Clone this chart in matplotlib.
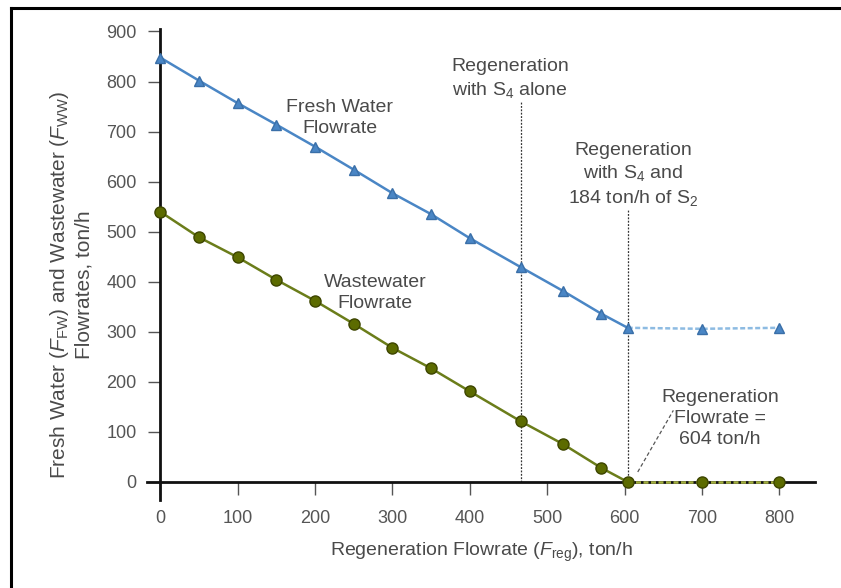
import numpy as np
import matplotlib.pyplot as plt
from matplotlib.lines import Line2D

plt.rcParams['font.family'] = ['Liberation Sans', 'DejaVu Sans']
plt.rcParams['mathtext.fontset'] = 'custom'
plt.rcParams['mathtext.rm'] = 'Liberation Sans'
plt.rcParams['mathtext.it'] = 'Liberation Sans:italic'

# Data
reg_flow = [0, 50, 100, 150, 200, 250, 300, 350, 400, 466, 520, 570, 604, 700, 800]
fresh_water = [848, 802, 757, 714, 670, 624, 577, 535, 487, 429, 382, 336, 308, 306, 308]
waste_water = [540, 489, 449, 404, 362, 316, 268, 227, 181, 121, 76, 28, 0, 0, 0]
break_idx = 12          # regeneration flowrate = 604 ton/h
s4_alone = 466          # regeneration with S4 alone
s4_s2 = 604             # regeneration with S4 and 184 ton/h of S2

x_ticks = [0, 100, 200, 300, 400, 500, 600, 700, 800]
y_ticks = [0, 100, 200, 300, 400, 500, 600, 700, 800, 900]

txt_col = '#4a4a4a'
blue = '#4a86c5'
blue_light = '#8dbbe2'
olive = '#6b7d1a'
olive_face = '#5c6b00'
olive_light = '#a4b040'

fig = plt.figure(figsize=(8.41, 5.88), dpi=100)
ax = fig.add_axes([0.1748, 0.1497, 0.7943, 0.801])

# vertical reference lines
ax.plot([s4_alone, s4_alone], [0, 759], color='#333333', lw=0.9, ls=(0, (1.5, 1.2)))
ax.plot([s4_s2, s4_s2], [0, 545], color='#333333', lw=0.9, ls=(0, (1.5, 1.2)))

x = np.array(reg_flow)
fw = np.array(fresh_water)
ww = np.array(waste_water)

# fresh water
ax.plot(x[:break_idx + 1], fw[:break_idx + 1], color=blue, lw=1.8, zorder=3)
ax.plot(x[break_idx:], fw[break_idx:], color=blue_light, lw=1.8, ls=(0, (2, 1)), zorder=3)
ax.plot(x, fw, ls='none', marker='^', ms=6.5, color=blue, mec='#3a6fa8', zorder=4)

# wastewater
ax.plot(x[:break_idx + 1], ww[:break_idx + 1], color=olive, lw=1.8, zorder=3)
ax.plot(x[break_idx:], ww[break_idx:], color=olive_light, lw=1.8, ls=(0, (2, 1)), zorder=3)
ax.plot(x, ww, ls='none', marker='o', ms=8, color=olive_face, mec='#3d4500', zorder=4)

ax.set_xlim(-17, 846)
ax.set_ylim(-36, 905)
ax.spines['left'].set_position(('data', 0))
ax.spines['bottom'].set_position(('data', 0))
ax.spines['left'].set_bounds(-36, 905)
ax.spines['right'].set_visible(False)
ax.spines['top'].set_visible(False)
for s in ['left', 'bottom']:
    ax.spines[s].set_linewidth(2)
    ax.spines[s].set_color('#111111')
    ax.spines[s].set_zorder(2)

ax.set_xticks(x_ticks)
ax.set_yticks(y_ticks)
ax.tick_params(axis='both', direction='out', length=9, width=1, color='#555555',
               labelsize=13, labelcolor='#555555')
ax.tick_params(axis='x', pad=11)
ax.tick_params(axis='y', pad=8)

# annotations
kw = dict(ha='center', va='center', fontsize=14, color=txt_col, linespacing=1.3)
ax.text(232, 728, 'Fresh Water\nFlowrate', **kw)
ax.text(278, 378, 'Wastewater\nFlowrate', **kw)
ax.text(452, 805, 'Regeneration\nwith S$_4$ alone', **kw)
ax.text(611, 614, 'Regeneration\nwith S$_4$ and\n184 ton/h of S$_2$', **kw)
ax.text(723, 127, 'Regeneration\nFlowrate =\n604 ton/h', **kw)
ax.plot([617, 663], [20, 143], color='#555555', lw=0.9, ls=(0, (3, 2)))

ax.set_xlabel('Regeneration Flowrate ($F_{\\mathrm{reg}}$), ton/h', fontsize=14,
              color=txt_col, labelpad=10)
fig.text(71 / 841, 1 - 285 / 588,
         'Fresh Water ($F_{\\mathrm{FW}}$) and Wastewater ($F_{\\mathrm{WW}}$)\nFlowrates, ton/h',
         rotation=90, ha='center', va='center', fontsize=15, color=txt_col,
         multialignment='center', linespacing=1.25)

# outer frame (left and top only)
fig.add_artist(Line2D([11 / 841, 11 / 841], [0, 1 - 8 / 588], color='black', lw=2.2))
fig.add_artist(Line2D([11 / 841, 1], [1 - 8 / 588, 1 - 8 / 588], color='black', lw=2.2))

plt.savefig('out.png', dpi=100)
